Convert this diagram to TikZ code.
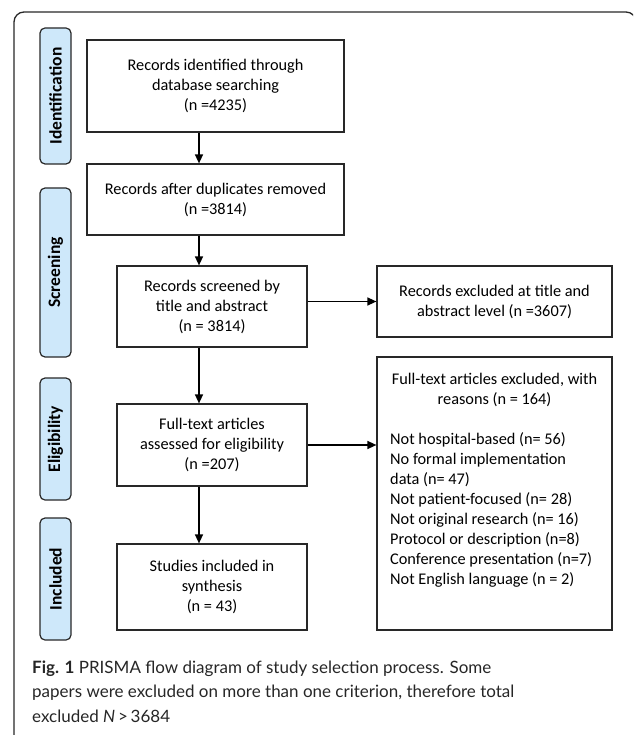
\documentclass[tikz,border=0pt]{standalone}
\usepackage{fontspec}
\setmainfont{Carlito}
\newfontfamily\capfont{Lato}
\usetikzlibrary{arrows.meta}
\definecolor{phaseblue}{RGB}{206,232,250}
\definecolor{edgegray}{RGB}{40,40,40}
\tikzset{
  box/.style={draw=edgegray, line width=1.2pt, minimum width=#1, inner sep=0pt, align=center,
              font=\fontsize{16.3}{20}\selectfont},
  phase/.style={draw=edgegray, line width=1.2pt, fill=phaseblue, rounded corners=5pt,
                minimum width=31pt, inner sep=0pt},
  phasetext/.style={rotate=90, font=\fontsize{17.5}{20}\selectfont\bfseries},
  txt/.style={inner sep=0pt, align=center, font=\fontsize{16.3}{20}\selectfont},
  arr/.style={line width=1.4pt, -{Triangle[length=9pt,width=8pt]}},
  captxt/.style={inner sep=0pt, anchor=base west, font=\capfont\fontsize{17}{24}\selectfont, text=black!85}
}
\begin{document}
\begin{tikzpicture}[x=1pt,y=-1pt]
\useasboundingbox (0,0) rectangle (633,735);
\begin{scope}
\clip (0,0) rectangle (633,735);
\draw[line width=1.3pt, edgegray, rounded corners=10pt] (14,770) -- (14,12) -- (636,12) -- (636,770);
\end{scope}

% phase labels
\node[phase, minimum height=136pt] (pid) at (55.5,96) {};
\node[phasetext] (tid) at (pid.center) {Identification};
\node[phase, minimum height=169pt] (pscr) at (55.5,272.5) {};
\node[phasetext] (tscr) at (pscr.center) {Screening};
\node[phase, minimum height=122pt] (pel) at (55.5,439) {};
\node[phasetext] (tel) at (pel.center) {Eligibility};
\node[phase, minimum height=122pt] (pinc) at (55.5,579) {};
\node[phasetext] (tinc) at (pinc.center) {Included};

% main boxes
\node[box=257pt, minimum height=92pt] (b1) at (215.5,86) {Records identified through\\database searching\\(n =4235)};
\node[box=257pt, minimum height=71pt] (b2) at (215.5,199.5) {Records after duplicates removed\\(n =3814)};
\node[box=190pt, minimum height=81pt] (b3) at (212,306.5) {Records screened by\\title and abstract\\(n = 3814)};
\node[box=190pt, minimum height=82pt] (b4) at (212,445) {Full-text articles\\assessed for eligibility\\(n =207)};
\node[box=190pt, minimum height=86pt] (b5) at (212,587) {Studies included in\\synthesis\\(n = 43)};

% right boxes
\node[box=235pt, minimum height=71pt] (r1) at (494.5,301.5) {Records excluded at title and\\abstract level (n =3607)};
\node[box=235pt, minimum height=273pt] (r2) at (494.5,493.5) {};
\node[txt] (r2head) at (494.5,390) {Full-text articles excluded, with\\reasons (n = 164)};
\node[txt, align=left, anchor=west] (r2list) at (390,510) {Not hospital-based (n= 56)\\No formal implementation\\data (n= 47)\\Not patient-focused (n= 28)\\Not original research (n= 16)\\Protocol or description (n=8)\\Conference presentation (n=7)\\Not English language (n = 2)};

% arrows
\coordinate (ax) at (199,0);
\draw[arr] (b1.south -| ax) -- (b2.north -| ax);
\draw[arr] (b2.south -| ax) -- (b3.north -| ax);
\draw[arr] (b3.south -| ax) -- (b4.north -| ax);
\draw[arr] (b4.south -| ax) -- (b5.north -| ax);
\draw[arr] (b3.east |- r1.west) -- (r1.west);
\draw[arr] (b4.east) -- (b4.east -| r2.west);

% caption
\node[captxt] (cap1) at (32,673) {\textbf{Fig. 1} PRISMA flow diagram of study selection process. Some};
\node[captxt] (cap2) at (32,697) {papers were excluded on more than one criterion, therefore total};
\node[captxt] (cap3) at (32,722) {excluded \textit{N}\,>\,3684};
\end{tikzpicture}
\end{document}
